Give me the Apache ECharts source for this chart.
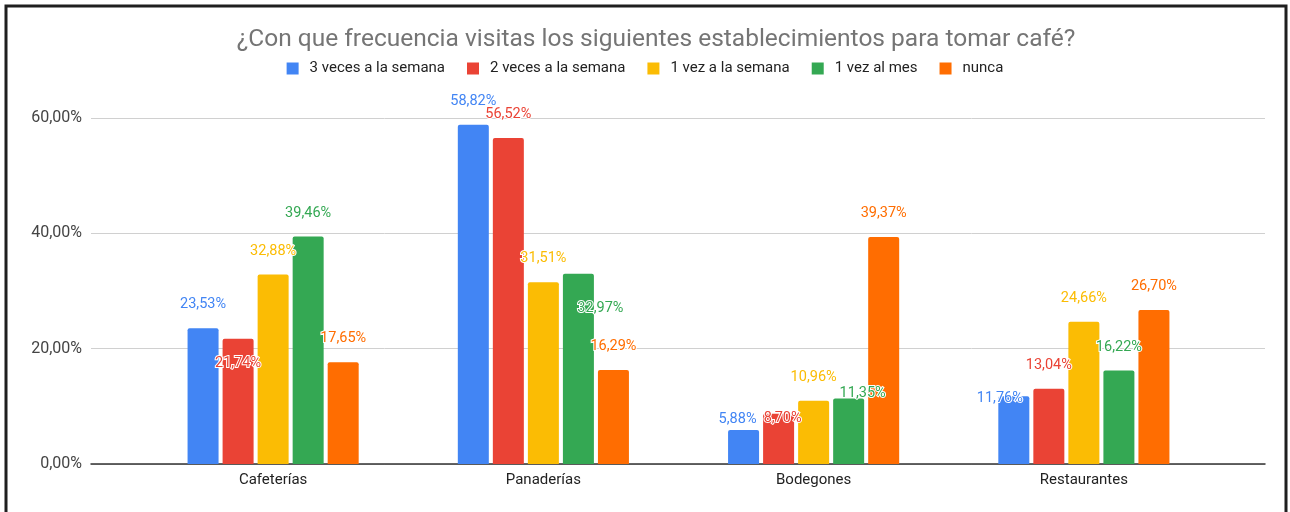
<!DOCTYPE html>
<html>
<head>
<meta charset="utf-8">
<script src="https://cdn.jsdelivr.net/npm/echarts@6/dist/echarts.min.js"></script>
<style>
  html, body { margin: 0; padding: 0; background: #fff; }
  #chart { width: 1290px; height: 512px; }
</style>
</head>
<body>
<div id="chart"></div>
<script>
// datos
var categorias = ["Cafeterías", "Panaderías", "Bodegones", "Restaurantes"];
var nombresSeries = ["3 veces a la semana", "2 veces a la semana", "1 vez a la semana", "1 vez al mes", "nunca"];
var tresVeces = [23.53, 58.82, 5.88, 11.76];
var dosVeces = [21.74, 56.52, 8.70, 13.04];
var unaVezSemana = [32.88, 31.51, 10.96, 24.66];
var unaVezMes = [39.46, 32.97, 11.35, 16.22];
var nunca = [17.65, 16.29, 39.37, 26.70];
var ticksY = [0, 20, 40, 60];

var colores = ["#4285f4", "#ea4335", "#fbbc04", "#34a853", "#ff6d01"];
// desplazamiento de algunas etiquetas (como en el original)
var ajusteEtiquetas = {
  "1-0": [0, 48],
  "3-1": [22, 58],
  "0-2": [-6, 13],
  "1-2": [4, 28],
  "3-2": [14, 18],
  "0-3": [-14, 26]
};

var fuente = "Roboto, Arial, sans-serif";

function pct(v) {
  return v.toFixed(2).replace(".", ",") + "%";
}

var chart = echarts.init(document.getElementById("chart"));

var valores = [tresVeces, dosVeces, unaVezSemana, unaVezMes, nunca];

var series = valores.map(function (arr, si) {
  return {
    name: nombresSeries[si],
    type: "bar",
    xAxisIndex: 1,
    yAxisIndex: 1,
    barWidth: 31,
    barGap: "13%",
    itemStyle: { color: colores[si], borderRadius: [2, 2, 0, 0] },
    label: {
      show: true,
      position: "top",
      distance: 16,
      fontFamily: fuente,
      fontSize: 14.5,
      color: colores[si],
      textBorderColor: "#fff",
      textBorderWidth: 2,
      formatter: function (p) { return pct(p.value); }
    },
    data: arr.map(function (v, ci) {
      var off = ajusteEtiquetas[si + "-" + ci];
      if (off) {
        return { value: v, label: { offset: off } };
      }
      return v;
    })
  };
});

chart.setOption({
  animation: false,
  backgroundColor: "#fff",
  color: colores,
  title: {
    text: "¿Con que frecuencia visitas los siguientes establecimientos para tomar café?",
    left: 651,
    textAlign: "center",
    top: 22,
    textStyle: {
      fontFamily: fuente,
      fontSize: 24.5,
      fontWeight: "normal",
      color: "#757575"
    }
  },
  legend: {
    top: 56,
    left: "center",
    icon: "rect",
    itemWidth: 12,
    itemHeight: 12,
    itemGap: 22,
    data: nombresSeries,
    textStyle: {
      fontFamily: fuente,
      fontSize: 15,
      color: "#222",
      padding: [0, 0, 0, 6]
    }
  },
  grid: [
    { left: 91, right: 25, top: 118, bottom: 48 },
    { left: 138, right: 71, top: 118, bottom: 48 }
  ],
  xAxis: [
    {
      gridIndex: 0,
      type: "value",
      min: 0,
      max: 1,
      axisLabel: { show: false },
      axisTick: { show: false },
      splitLine: { show: false },
      axisLine: { show: true, lineStyle: { color: "#333", width: 1.5 } }
    },
    {
      gridIndex: 1,
      type: "category",
      data: categorias,
      axisLine: { show: false },
      axisTick: { show: false },
      axisLabel: {
        fontFamily: fuente,
        fontSize: 15,
        color: "#222",
        margin: 9
      }
    }
  ],
  yAxis: [
    {
      gridIndex: 0,
      type: "value",
      min: ticksY[0],
      max: ticksY[ticksY.length - 1],
      interval: 20,
      axisLine: { show: false },
      axisTick: { show: false },
      axisLabel: {
        fontFamily: fuente,
        fontSize: 16,
        color: "#444",
        margin: 9,
        formatter: function (v) { return pct(v); }
      },
      splitLine: { lineStyle: { color: "#d0d0d0", width: 1 } }
    },
    {
      gridIndex: 1,
      type: "value",
      min: ticksY[0],
      max: ticksY[ticksY.length - 1],
      interval: 20,
      show: false
    }
  ],
  graphic: [
    {
      type: "polyline",
      silent: true,
      shape: { points: [[6, 512], [6, 6], [1286, 6], [1286, 512]] },
      style: { stroke: "#1f1f1f", lineWidth: 3, fill: null }
    }
  ],
  series: series
});
</script>
</body>
</html>
